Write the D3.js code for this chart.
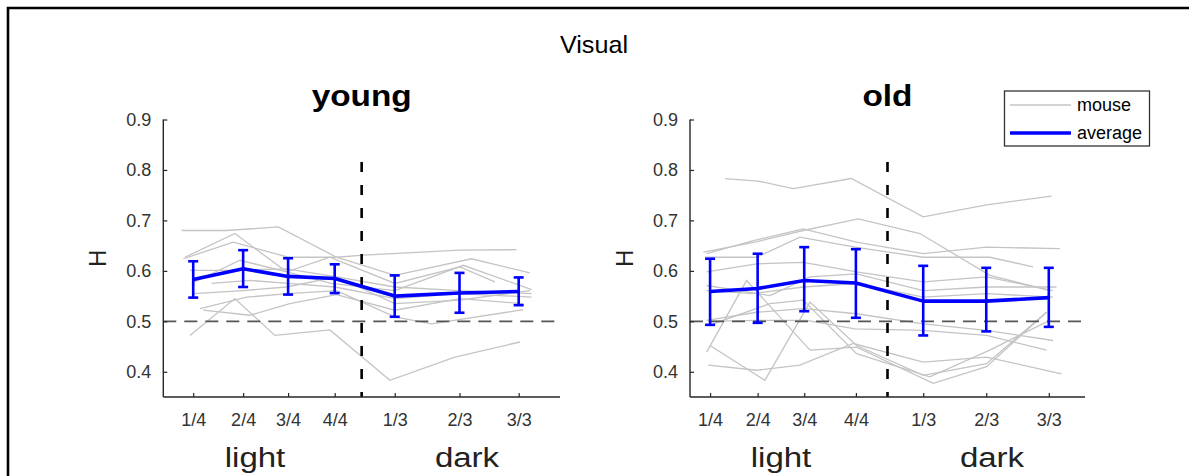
<!DOCTYPE html>
<html><head><meta charset="utf-8">
<script src="https://cdn.jsdelivr.net/npm/d3@7"></script>
<style>body{margin:0;background:#fff;overflow:hidden}svg{display:block}text{font-family:"Liberation Sans",Arial,Helvetica,sans-serif}</style>
</head><body><svg id="c" width="1189" height="476"></svg>
<script>
// ---------- data ----------
const yTicks = [0.4, 0.5, 0.6, 0.7, 0.8, 0.9];
const xTickLabels = ["1/4", "2/4", "3/4", "4/4", "1/3", "2/3", "3/3"];
const phaseLabels = ["light", "dark"];
const lightDarkBoundary = 12;

// young (x in hours, H values)
const youngTickX = [1.81, 4.83, 7.55, 10.37, 14.0, 17.92, 21.5];
const youngMean = [0.583, 0.604, 0.589, 0.585, 0.550, 0.556, 0.559];
const youngHi   = [0.619, 0.641, 0.625, 0.613, 0.591, 0.596, 0.587];
const youngLo   = [0.547, 0.568, 0.553, 0.556, 0.509, 0.517, 0.532];
const youngMouseX = [
  [1.11, 3.83, 6.96, 10.48, 14.01, 18.65, 22.18],
  [1.21, 4.23, 7.56, 10.48, 12.10, 17.94, 21.37],
  [1.31, 4.33, 7.46, 10.08, 14.01, 17.94, 20.06],
  [1.71, 4.64, 7.46, 10.18, 14.01, 18.15, 22.28],
  [2.92, 5.24, 7.56, 10.38, 14.01, 17.94, 22.28],
  [1.81, 4.84, 7.46, 10.48, 14.01, 17.94, 22.18],
  [2.42, 5.24, 7.66, 10.48, 14.01, 17.94, 21.77],
  [1.61, 4.33, 6.75, 10.08, 13.71, 17.64, 21.57],
  [2.22, 5.04, 7.56, 10.48, 14.01, 16.23, 21.77],
  [1.61, 4.23, 7.46, 10.48, 14.01, 17.94, 22.28]
];
const youngMouseY = [
  [0.680, 0.680, 0.687, 0.627, 0.591, 0.624, 0.596],
  [0.624, 0.657, 0.627, 0.627, 0.631, 0.641, 0.642],
  [0.627, 0.674, 0.598, 0.627, 0.575, 0.608, 0.578],
  [0.575, 0.621, 0.598, 0.575, 0.561, 0.611, 0.563],
  [0.575, 0.581, 0.575, 0.568, 0.545, 0.555, 0.548],
  [0.555, 0.561, 0.568, 0.588, 0.535, 0.542, 0.561],
  [0.522, 0.512, 0.535, 0.553, 0.522, 0.545, 0.535],
  [0.472, 0.545, 0.472, 0.483, 0.383, 0.429, 0.459],
  [0.525, 0.548, 0.555, 0.561, 0.509, 0.495, 0.523],
  [0.601, 0.601, 0.604, 0.588, 0.568, 0.561, 0.555]
];

// old
const oldTickX = [1.22, 4.11, 6.94, 10.08, 14.17, 18.0, 21.8];
const oldMean = [0.559, 0.565, 0.581, 0.576, 0.540, 0.540, 0.547];
const oldHi   = [0.624, 0.634, 0.647, 0.643, 0.610, 0.606, 0.606];
const oldLo   = [0.493, 0.497, 0.520, 0.507, 0.472, 0.480, 0.489];
const oldMouseX = [
  [2.13, 4.15, 6.28, 9.80, 14.17, 18.02, 21.96],
  [0.81, 3.95, 6.88, 10.22, 13.97, 18.22, 21.86],
  [1.01, 3.85, 6.88, 10.12, 14.17, 18.02, 22.47],
  [0.91, 4.05, 6.68, 10.02, 14.17, 18.22, 20.85],
  [1.01, 4.05, 6.88, 10.12, 14.17, 18.02, 22.06],
  [1.01, 4.86, 7.29, 10.12, 14.17, 18.02, 22.27],
  [1.01, 3.85, 6.88, 10.12, 14.17, 18.02, 22.06],
  [1.01, 4.05, 6.88, 10.12, 14.17, 18.02, 22.06],
  [1.11, 4.05, 7.09, 10.02, 14.17, 18.02, 21.66],
  [1.21, 4.55, 7.29, 10.12, 14.17, 18.02, 21.66],
  [1.11, 4.05, 6.68, 9.92, 14.17, 18.02, 22.57],
  [1.01, 3.44, 7.29, 10.12, 14.78, 18.02, 21.66],
  [1.42, 4.86, 6.88, 10.12, 14.57, 18.22, 21.86]
];
const oldMouseY = [
  [0.783, 0.778, 0.763, 0.783, 0.707, 0.731, 0.748],
  [0.637, 0.657, 0.680, 0.703, 0.674, 0.591, 0.561],
  [0.634, 0.660, 0.683, 0.657, 0.634, 0.647, 0.644],
  [0.627, 0.627, 0.667, 0.647, 0.627, 0.627, 0.608],
  [0.598, 0.614, 0.617, 0.598, 0.578, 0.588, 0.561],
  [0.571, 0.551, 0.588, 0.594, 0.561, 0.568, 0.568],
  [0.561, 0.555, 0.568, 0.575, 0.548, 0.555, 0.548],
  [0.502, 0.518, 0.525, 0.515, 0.495, 0.482, 0.462],
  [0.500, 0.502, 0.502, 0.485, 0.482, 0.472, 0.443],
  [0.452, 0.383, 0.538, 0.452, 0.393, 0.416, 0.518],
  [0.413, 0.403, 0.413, 0.456, 0.419, 0.429, 0.396],
  [0.439, 0.581, 0.443, 0.449, 0.377, 0.410, 0.518],
  [0.495, 0.535, 0.542, 0.436, 0.390, 0.443, 0.502]
];

const figTitle = "Visual";
const legendLabels = ["mouse", "average"];

// ---------- drawing ----------
const svg = d3.select("#c");
svg.append("rect").attr("width", 1189).attr("height", 476).attr("fill", "#fff");
svg.append("path").attr("d", "M8,480V8H1195").attr("fill", "none").attr("stroke", "#000").attr("stroke-width", 2.6);

function stext(parent, x, y, str, size, sx, opts = {}) {
  return parent.append("text")
    .attr("transform", `translate(${x},${y}) scale(${sx},1)`)
    .attr("text-anchor", opts.anchor || "middle")
    .attr("font-size", size).attr("font-weight", opts.weight || "normal")
    .attr("fill", opts.fill || "#000").text(str);
}

stext(svg, 594, 53, figTitle, 24, 1.05);

const axisCol = "#262626";
const panels = [
  {title: "young", x0: 163.3, x1: 560, tickX: youngTickX, mean: youngMean, hi: youngHi, lo: youngLo, mx: youngMouseX, my: youngMouseY, lightX: 255, darkX: 467},
  {title: "old", x0: 690, x1: 1085, tickX: oldTickX, mean: oldMean, hi: oldHi, lo: oldLo, mx: oldMouseX, my: oldMouseY, lightX: 781, darkX: 992}
];

panels.forEach(p => {
  const x = d3.scaleLinear().domain([0, 24]).range([p.x0, p.x1]);
  const y = d3.scaleLinear().domain([0.35, 0.9]).range([397, 119.5]);
  const g = svg.append("g");

  const line = d3.line().x(d => x(d[0])).y(d => y(d[1]));
  p.my.forEach((ys, i) => {
    const pts = ys.map((v, j) => [p.mx[i][j], v]);
    g.append("path").attr("d", line(pts)).attr("fill", "none")
      .attr("stroke", "#c4c4c4").attr("stroke-width", 1.3);
  });

  g.append("line").attr("x1", x(0)).attr("x2", x(24)).attr("y1", y(0.5)).attr("y2", y(0.5))
    .attr("stroke", "#555").attr("stroke-width", 1.8).attr("stroke-dasharray", "13,8");

  g.append("line").attr("x1", x(lightDarkBoundary)).attr("x2", x(lightDarkBoundary))
    .attr("y1", y(0.816)).attr("y2", y(0.35))
    .attr("stroke", "#000").attr("stroke-width", 2.6).attr("stroke-dasharray", "10,13");

  const yAxis = d3.axisLeft(y).tickValues(yTicks).tickSize(-4).tickPadding(12).tickFormat(d3.format(".1f"));
  const ya = g.append("g").attr("transform", `translate(${p.x0},0)`).call(yAxis);
  const xAxis = d3.axisBottom(x).tickValues(p.tickX).tickSize(-4).tickPadding(16).tickFormat((d, i) => xTickLabels[i]);
  const xa = g.append("g").attr("transform", "translate(0,397)").call(xAxis);
  [ya, xa].forEach(a => {
    a.select(".domain").attr("stroke", axisCol).attr("stroke-width", 1.4);
    a.selectAll(".tick line").attr("stroke", axisCol).attr("stroke-width", 1.2);
    a.selectAll("text").attr("fill", "#333").attr("font-size", 18).attr("font-family", "Liberation Sans, Arial, sans-serif");
  });
  ya.select(".domain").attr("d", `M0,${y(0.9)}V397`);
  xa.select(".domain").attr("d", `M${p.x0},0H${p.x1}`);

  g.append("path").attr("d", line(p.mean.map((v, j) => [p.tickX[j], v]))).attr("fill", "none")
    .attr("stroke", "#0000ff").attr("stroke-width", 3.6).attr("stroke-linejoin", "round");
  p.mean.forEach((v, j) => {
    const cx = x(p.tickX[j]);
    g.append("line").attr("x1", cx).attr("x2", cx).attr("y1", y(p.hi[j])).attr("y2", y(p.lo[j]))
      .attr("stroke", "#0000ff").attr("stroke-width", 2.6);
    [p.hi[j], p.lo[j]].forEach(e => {
      g.append("line").attr("x1", cx - 5).attr("x2", cx + 5).attr("y1", y(e)).attr("y2", y(e))
        .attr("stroke", "#0000ff").attr("stroke-width", 2.6);
    });
  });

  stext(g, (p.x0 + p.x1) / 2, 106, p.title, 29, 1.15, {weight: "bold"});
  g.append("text").attr("transform", `translate(${p.x0 - 57},${(y(0.9) + 397) / 2}) rotate(-90)`)
    .attr("text-anchor", "middle").attr("font-size", 24).attr("fill", "#222").text("H");
  stext(g, p.lightX, 467, phaseLabels[0], 28, 1.18, {fill: "#222"});
  stext(g, p.darkX, 467, phaseLabels[1], 28, 1.18, {fill: "#222"});
});

// legend
const lg = svg.append("g");
lg.append("rect").attr("x", 1004.5).attr("y", 91).attr("width", 145).attr("height", 55)
  .attr("fill", "#fff").attr("stroke", "#333").attr("stroke-width", 1.3);
lg.append("line").attr("x1", 1010).attr("x2", 1071).attr("y1", 105).attr("y2", 105)
  .attr("stroke", "#c4c4c4").attr("stroke-width", 1.3);
lg.append("line").attr("x1", 1010).attr("x2", 1071).attr("y1", 133).attr("y2", 133)
  .attr("stroke", "#0000ff").attr("stroke-width", 3.6);
lg.append("text").attr("x", 1077).attr("y", 111).attr("font-size", 18).attr("fill", "#000").text(legendLabels[0]);
lg.append("text").attr("x", 1077).attr("y", 139).attr("font-size", 18).attr("fill", "#000").text(legendLabels[1]);
</script></body></html>
